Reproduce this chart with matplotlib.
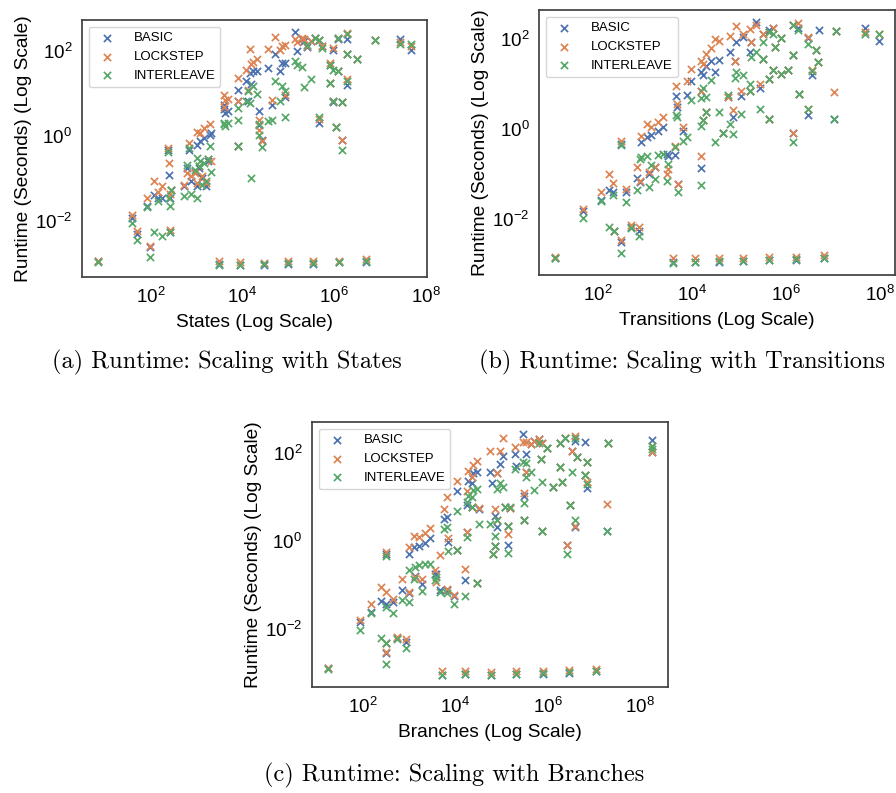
import numpy as np
import matplotlib
matplotlib.use("Agg")
import matplotlib.pyplot as plt
from matplotlib.ticker import NullLocator

plt.rcParams['font.family'] = ['Liberation Sans', 'DejaVu Sans']
plt.rcParams['mathtext.fontset'] = 'custom'
plt.rcParams['mathtext.rm'] = 'Liberation Sans'
plt.rcParams['mathtext.it'] = 'Liberation Sans:italic'
plt.rcParams['mathtext.bf'] = 'Liberation Sans:bold'

nan = np.nan

# all values are log10

# (a) states
states_log = [
    0.84, 1.58, 1.70, 1.91, 1.98, 2.07, 2.16, 2.25, 2.38, 2.39, 2.42, 2.43,
    2.45, 2.72, 2.79, 2.83, 2.88, 2.97, 3.01, 3.01, 3.05, 3.08, 3.12, 3.17,
    3.21, 3.25, 3.29, 3.32, 3.48, 3.59, 3.60, 3.63, 3.68, 3.90, 3.90, 3.90,
    3.94, 4.07, 4.12, 4.16, 4.20, 4.23, 4.31, 4.36, 4.36, 4.44, 4.47, 4.57,
    4.65, 4.72, 4.83, 4.87, 4.94, 4.94, 4.99, 5.16, 5.19, 5.30, 5.34, 5.41,
    5.50, 5.54, 5.59, 5.67, 5.67, 5.74, 5.92, 5.92, 5.99, 5.99, 6.05, 6.10,
    6.10, 6.12, 6.17, 6.17, 6.28, 6.28, 6.28, 6.50, 6.71, 6.90, 7.45, 7.69]
basic_a = [
    -2.95, -1.92, -2.31, -1.66, -2.60, -1.39, -1.45, -1.47, -0.34, -0.92, -2.25, -1.45,
    -1.27, -1.18, -0.75, -0.33, -1.07, -0.85, -0.21, -1.18, -0.75, -0.13, -1.00, -0.05,
    -1.18, -0.60, 0.02, 0.06, -3.02, 0.71, 0.62, 0.53, 0.57, 1.08, 0.81, -0.23,
    -3.03, 1.28, 0.81, 1.47, 1.22, 1.51, 1.53, 0.57, 0.26, -0.09, -3.04, 1.58,
    0.73, 1.92, 1.51, 1.71, 1.71, 0.91, -3.01, 2.44, 1.98, 2.28, 2.22, 2.08,
    2.22, -3.00, 2.30, 0.30, 2.24, 2.10, 1.67, 1.24, 2.02, 0.80, 0.20, 2.28,
    1.51, -2.97, -0.10, 0.79, 2.28, 1.20, 1.91, 1.79, -2.96, 2.24, 2.28, 2.00]
lockstep_a = [
    -2.93, -1.86, -2.24, -1.45, -2.59, -1.07, -1.31, -1.19, -0.29, -0.64, -2.21, -1.37,
    -1.27, -1.15, -0.87, -0.17, -0.95, -0.87, 0.09, -1.10, -0.70, 0.06, -0.95, 0.18,
    -1.10, -0.55, 0.27, -0.59, -2.95, 0.96, 0.67, 0.85, 0.87, 1.36, 0.81, -0.23,
    -2.96, 1.55, 1.08, 2.04, 1.69, 1.73, 1.81, 0.38, 0.14, -0.12, -2.98, 2.04,
    0.85, 2.31, 2.02, 2.10, 2.13, 0.95, -2.95, 2.26, 2.20, 2.30, 2.28, 2.10,
    2.22, -2.94, 2.30, 0.40, 2.24, 2.10, 1.70, 1.24, 2.06, 0.82, 0.20, 2.30,
    1.51, -2.94, -0.09, 0.79, 2.42, 1.32, 1.91, 1.79, -2.90, 2.24, 2.20, 2.10]
interleave_a = [
    -2.97, -2.04, -2.44, -1.68, -2.84, -2.25, -1.53, -2.35, -0.38, -1.45, -2.25, -1.66,
    -1.27, -1.41, -0.68, -0.29, -1.37, -0.80, -0.53, -1.47, -0.70, -0.60, -1.15, -0.63,
    -1.07, -0.55, -0.25, -0.84, -3.04, 0.28, 0.30, 0.24, 0.30, 0.65, 0.38, -0.23,
    -3.03, 0.82, 1.04, 0.77, -0.98, 1.16, 0.98, 0.27, 0.02, -0.27, -3.02, 0.35,
    0.38, 1.28, 0.81, 1.16, 1.04, 0.45, -2.99, 1.76, 1.65, 1.61, 1.14, 2.14,
    1.34, -2.98, 2.30, 0.45, 2.24, 2.06, 1.67, 1.24, 1.55, 0.81, 0.20, 2.30,
    1.51, -2.96, -0.33, 0.79, 2.38, 1.29, 1.91, 1.79, -2.94, 2.24, 2.16, 2.16]

# (b) transitions
transitions_log = [
    1.10, 1.70, 2.07, 2.25, 2.33, 2.35, 2.49, 2.49, 2.61, 2.70, 2.84, 2.88,
    2.90, 2.93, 3.04, 3.09, 3.14, 3.22, 3.29, 3.39, 3.48, 3.50, 3.60, 3.64,
    3.67, 3.69, 3.71, 3.82, 3.90, 3.99, 4.06, 4.19, 4.19, 4.19, 4.24, 4.24,
    4.30, 4.30, 4.42, 4.49, 4.58, 4.59, 4.66, 4.77, 4.81, 4.88, 4.91, 4.95,
    5.05, 5.09, 5.09, 5.23, 5.23, 5.27, 5.36, 5.46, 5.51, 5.51, 5.64, 5.65,
    5.65, 5.65, 5.72, 5.72, 5.76, 5.90, 5.90, 6.04, 6.16, 6.16, 6.16, 6.22,
    6.25, 6.29, 6.47, 6.47, 6.56, 6.63, 6.68, 6.70, 6.80, 7.02, 7.07, 7.69, 7.97]
basic_b = [
    -2.87, -1.83, -1.59, -1.36, -1.41, -2.26, -0.33, -2.52, -1.41, -2.17, -1.09, -2.26,
    -1.19, -0.30, -0.17, -1.00, -0.13, -0.84, -0.04, 0.05, -0.56, -0.60, -2.96, -0.59,
    0.72, 0.48, -1.22, -0.04, 0.76, 1.07, -2.95, 0.84, 1.27, -0.87, 1.19, 0.19,
    1.39, 0.37, 1.50, 1.26, -2.95, 1.53, -0.09, 0.70, 1.70, 0.27, 1.50, 1.93,
    0.72, 2.04, -2.93, 1.70, 0.85, 1.93, 2.37, 0.91, 2.11, 1.56, -2.92, 2.19,
    1.11, 0.22, 2.24, 1.30, 1.81, 2.02, 1.22, 1.30, 2.30, 1.63, -0.09, -2.91,
    2.24, 0.78, 2.02, 0.30, 1.19, 1.76, 1.48, 2.20, -2.88, 0.22, 2.17, 2.24, 1.96]
lockstep_b = [
    -2.85, -1.78, -1.41, -1.01, -1.21, -2.26, -0.26, -2.48, -1.33, -2.14, -0.85, -2.19,
    -1.15, -0.15, 0.10, -0.95, 0.05, -0.85, 0.15, 0.26, -1.00, -0.90, -2.88, -0.37,
    0.96, 0.55, -1.22, 0.05, 1.06, 1.33, -2.88, 0.85, 1.50, -0.61, 1.44, 0.19,
    1.67, 0.37, 1.80, 2.00, -2.88, 1.96, -0.09, 0.70, 2.07, 0.41, 1.50, 2.28,
    0.84, 2.11, -2.86, 2.22, 0.85, 1.93, 2.30, 1.00, 2.11, 1.56, -2.85, 2.15,
    1.11, 0.22, 2.24, 1.30, 1.81, 2.02, 1.22, 1.30, 2.30, 1.63, -0.09, -2.84,
    2.36, 0.78, 2.04, 0.44, 1.31, 1.76, 1.48, nan, -2.80, 0.81, 2.17, 2.15, 2.11]
interleave_b = [
    -2.88, -1.98, -1.61, -2.19, -1.48, -2.26, -0.35, -2.76, -1.63, -2.20, -1.36, -2.37,
    -0.68, -0.63, -0.60, -1.30, -0.81, -1.11, -0.58, -0.56, -1.15, -0.78, -2.98, -0.41,
    0.30, 0.26, -1.41, -0.26, -0.19, 0.64, -2.95, 0.69, 0.07, -1.24, 0.91, 0.19,
    0.70, 0.37, 1.09, -0.30, -2.93, 0.37, -0.10, 0.76, 0.10, -0.11, 1.13, 1.26,
    0.33, 1.19, -2.93, 1.00, 0.85, 1.59, 1.70, 0.44, 1.93, 1.56, -2.91, 2.15,
    1.11, 0.22, 2.11, 1.30, 1.81, 2.02, 1.22, 1.30, 2.30, 1.63, -0.30, -2.90,
    2.19, 0.78, 1.89, 0.44, 1.28, 1.76, 1.48, nan, -2.86, 0.22, 2.17, 2.11, 2.11]

# (c) branches
branches_log = [
    1.26, 1.94, 2.19, 2.41, 2.50, 2.50, 2.52, 2.52, 2.66, 2.75, 2.86, 2.95,
    3.00, 3.00, 3.11, 3.13, 3.22, 3.29, 3.36, 3.47, 3.58, 3.60, 3.68, 3.72,
    3.77, 3.83, 3.83, 3.86, 3.97, 4.04, 4.04, 4.22, 4.22, 4.26, 4.26, 4.28,
    4.37, 4.37, 4.40, 4.47, 4.47, 4.51, 4.76, 4.78, 4.80, 4.82, 4.87, 4.87,
    4.91, 4.91, 4.98, 5.05, 5.09, 5.14, 5.14, 5.18, 5.30, 5.32, 5.32, 5.48,
    5.50, 5.50, 5.54, 5.54, 5.64, 5.70, 5.81, 5.86, 5.88, 5.88, 5.90, 5.99,
    6.13, 6.27, 6.27, 6.31, 6.38, 6.42, 6.47, 6.49, 6.53, 6.60, 6.60, 6.63,
    6.81, 6.81, 6.85, 6.85, 7.06, 7.28, 7.30, 8.25, 8.25]
basic_c = [
    -2.89, -1.83, -1.61, -1.37, -1.43, -0.30, -2.31, -2.55, -1.38, -2.19, -1.10, -2.29,
    -0.30, -1.18, -0.14, -0.80, -0.12, -0.97, -0.05, 0.07, -0.74, -0.75, -1.12, -3.04,
    0.51, 0.54, -1.10, -0.02, -1.25, 1.13, -0.20, -0.88, -3.02, 0.81, 0.20, 1.36,
    1.31, 0.78, 1.54, 1.56, -0.95, 0.73, 1.58, -3.04, 1.31, -0.29, 0.56, -0.12,
    1.54, 0.32, 1.75, 1.94, 0.78, -0.08, 0.35, 0.75, 1.98, 1.71, -3.02, 2.43,
    1.03, 0.47, 1.99, 1.58, 2.20, 2.28, 2.32, 1.86, 2.24, 0.24, -3.01, 2.11,
    1.24, 2.24, 1.68, 1.34, 2.34, -0.08, -2.99, 0.81, 2.05, 2.28, 0.32, 1.92,
    2.26, 1.51, 1.21, 1.79, -2.96, 0.23, 2.24, 2.29, 2.02]
lockstep_c = [
    -2.88, -1.80, -1.42, -1.04, -1.15, -0.25, -2.31, -2.52, -1.31, -2.17, -0.85, -2.23,
    -0.14, -1.15, 0.11, -0.82, 0.09, -0.85, 0.18, 0.30, -0.66, -0.93, -0.32, -2.96,
    0.73, 1.00, -1.08, 0.08, -1.23, 1.37, -0.20, -0.63, -2.95, 1.13, 0.20, 1.59,
    1.46, 0.78, 1.74, 1.83, -0.95, 0.75, 2.04, -2.98, nan, -0.29, 0.73, -0.12,
    1.54, 0.48, 2.05, 2.34, 0.78, 0.17, 0.35, 0.75, 2.13, nan, -2.96, 2.26,
    1.10, 0.47, 2.26, 1.58, 2.20, 2.28, 2.32, 1.86, 2.24, 0.24, -2.95, 2.11,
    1.24, 2.24, 1.68, 1.34, 2.34, -0.08, -2.93, 0.81, 2.05, 2.39, 0.35, 1.92,
    nan, 1.51, 1.34, 1.79, -2.90, 0.84, 2.24, 2.17, 2.02]
interleave_c = [
    -2.91, -2.01, -1.63, -2.21, -1.49, -0.34, -2.31, -2.79, -1.63, -2.23, -1.34, -2.42,
    -0.65, -1.38, -0.85, -0.59, -0.55, -1.13, -0.51, -0.51, -0.89, -0.82, -1.15, -3.04,
    0.28, 0.33, -1.18, -0.23, -1.42, 0.69, -0.20, -1.25, -3.02, 0.88, 0.09, 1.03,
    1.01, 0.78, 1.15, 1.18, -0.95, 0.38, 0.39, -3.04, nan, -0.29, 0.11, -0.12,
    1.18, 0.48, 1.31, 1.24, 0.78, -0.27, 0.35, 0.78, 1.64, nan, -3.01, 1.80,
    0.86, 0.47, 1.77, 1.45, 1.58, 1.15, 2.24, 1.86, 1.34, 0.24, -3.00, 2.11,
    1.24, 2.24, 1.68, 1.34, 2.34, -0.30, -2.97, 0.81, 1.56, 2.35, 0.47, 1.92,
    nan, 1.51, 1.30, 1.79, -2.95, 0.23, 2.24, 2.17, 2.10]

names = ['BASIC', 'LOCKSTEP', 'INTERLEAVE']
colors = ['#4c72b0', '#dd8452', '#55a868']


def draw(ax, x_log, series, xlabel):
    x = 10 ** np.array(x_log)
    for name, col, y_log in zip(names, colors, series):
        ax.scatter(x, 10 ** np.array(y_log), marker='x', s=27, linewidths=1.25,
                   color=col, label=name)
    ax.set_xscale('log')
    ax.set_yscale('log')
    ax.set_xticks([1e2, 1e4, 1e6, 1e8])
    ax.set_yticks([1e-2, 1e0, 1e2])
    ax.xaxis.set_minor_locator(NullLocator())
    ax.yaxis.set_minor_locator(NullLocator())
    ax.tick_params(labelsize=13.5, length=0, pad=7)
    ax.set_xlabel(xlabel, fontsize=13.8, labelpad=5)
    ax.set_ylabel('Runtime (Seconds) (Log Scale)', fontsize=13.8, labelpad=2)
    for sp in ax.spines.values():
        sp.set_color('0.25')
        sp.set_linewidth(1.25)
    ax.legend(loc='upper left', fontsize=9.5, handletextpad=1.0, borderaxespad=0.5)


fig = plt.figure(figsize=(8.96, 7.93), dpi=100)
ax_a = fig.add_axes([0.0915, 0.6507, 0.385, 0.324])
ax_b = fig.add_axes([0.6016, 0.6532, 0.397, 0.334])
ax_c = fig.add_axes([0.3482, 0.1337, 0.397, 0.334])

draw(ax_a, states_log, [basic_a, lockstep_a, interleave_a], 'States (Log Scale)')
draw(ax_b, transitions_log, [basic_b, lockstep_b, interleave_b], 'Transitions (Log Scale)')
draw(ax_c, branches_log, [basic_c, lockstep_c, interleave_c], 'Branches (Log Scale)')

cap = dict(fontfamily='cmr10', fontsize=17.5, ha='center', va='center')
fig.text(227 / 896, 1 - 362 / 793, '(a) Runtime: Scaling with States', **cap)
fig.text(682 / 896, 1 - 362 / 793, '(b) Runtime: Scaling with Transitions', **cap)
fig.text(454 / 896, 1 - 775 / 793, '(c) Runtime: Scaling with Branches', **cap)

fig.savefig('out.png', dpi=100)
